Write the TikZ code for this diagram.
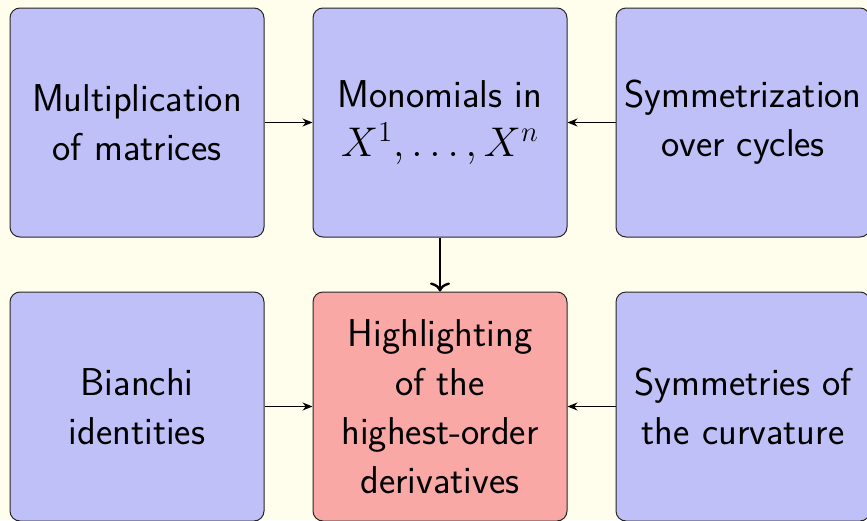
\documentclass[tikz,border=0pt]{standalone}
\usepackage{amsmath,amssymb}
\usepackage{xcolor}
\usepackage{tikz}
\usetikzlibrary{arrows.meta,positioning}
\definecolor{bgpaper}{RGB}{255,253,235}
\definecolor{boxblue}{RGB}{192,192,248}
\definecolor{boxred}{RGB}{250,168,166}

\begin{document}
\begin{tikzpicture}[
  node distance=27pt and 24pt,
  box/.style={draw=black!85, line width=0.5pt, rounded corners=5pt, fill=boxblue,
              align=center, inner sep=1pt, minimum width=127pt, minimum height=114.5pt,
              font=\sffamily\fontsize{19.4}{24.5}\selectfont},
  hilite/.style={box, fill=boxred},
  arr/.style={-{Stealth[length=5pt,width=4pt]}, line width=0.55pt},
  bigarr/.style={-{To[length=4.5pt,width=10pt]}, line width=1.2pt}
]
\fill[bgpaper] (0,0) rectangle (433.5pt,-260pt);
\useasboundingbox (0,0) rectangle (433.5pt,-260pt);

\node[box] (mult) at (68.5pt,-61.25pt) {Multiplication\\ of matrices};
\node[box, right=of mult] (mono) {Monomials in\\ $X^1,\dots,X^n$};
\node[box, right=of mono] (symcyc) {Symmetrization\\ over cycles};

\node[hilite, below=of mono] (high) {Highlighting\\ of the\\ highest-order\\ derivatives};
\node[box, left=of high] (bianchi) {Bianchi\\ identities};
\node[box, right=of high] (symcurv) {Symmetries of\\ the curvature};

\draw[arr] (mult) -- (mono);
\draw[arr] (symcyc) -- (mono);
\draw[bigarr] (mono) -- (high);
\draw[arr] (bianchi) -- (high);
\draw[arr] (symcurv) -- (high);
\end{tikzpicture}
\end{document}
